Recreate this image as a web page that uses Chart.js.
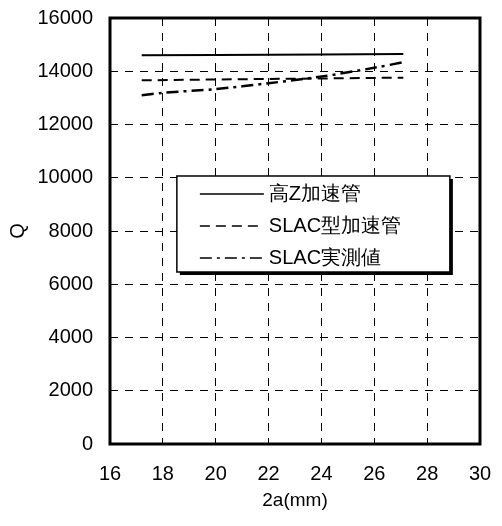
<!DOCTYPE html>
<html>
<head>
<meta charset="utf-8">
<script src="https://cdn.jsdelivr.net/npm/chart.js@4.4.1/dist/chart.umd.min.js"></script>
<style>
  html, body { margin: 0; padding: 0; background: #fff; }
  #wrap { width: 502px; height: 526px; }
</style>
</head>
<body>
<div id="wrap"><canvas id="c" width="502" height="526"></canvas></div>
<script>
// Bore diameter 2a (mm) and Q values for each structure
const apertureHighZ = [17.2, 20, 24, 27.1];
const qHighZ = [14600, 14610, 14630, 14650];

const apertureSlac = [17.2, 20, 24, 27.1];
const qSlac = [13660, 13690, 13730, 13760];

const apertureSlacMeasured = [17.2, 18, 20, 22, 24, 26, 27.1];
const qSlacMeasured = [13100, 13190, 13330, 13550, 13800, 14130, 14340];

const xTicks = [16, 18, 20, 22, 24, 26, 28, 30];
const yTicks = [0, 2000, 4000, 6000, 8000, 10000, 12000, 14000, 16000];

const seriesNames = ['高Z加速管', 'SLAC型加速管', 'SLAC実測値'];

const FONT = "'Liberation Sans', Arial, sans-serif";

function pts(xs, ys) { return xs.map((x, i) => ({ x: x, y: ys[i] })); }

// Thick frame around the plot area
const framePlugin = {
  id: 'frame',
  afterDraw(chart) {
    const { ctx, chartArea: a } = chart;
    ctx.save();
    ctx.strokeStyle = '#000';
    ctx.lineWidth = 3;
    ctx.setLineDash([]);
    ctx.strokeRect(a.left, a.top, a.right - a.left, a.bottom - a.top);
    ctx.restore();
  }
};

// Boxed legend inside the plot, with a drop shadow edge
const boxLegendPlugin = {
  id: 'boxLegend',
  afterDraw(chart) {
    const { ctx } = chart;
    const xs = chart.scales.x, ys = chart.scales.y;
    const left = xs.getPixelForValue(18.53);
    const right = xs.getPixelForValue(28.86);
    const top = ys.getPixelForValue(10066);
    const bottom = ys.getPixelForValue(6460);
    ctx.save();
    ctx.fillStyle = '#000';
    ctx.fillRect(left + 3, top + 3, right - left, bottom - top);
    ctx.fillStyle = '#fff';
    ctx.fillRect(left, top, right - left, bottom - top);
    ctx.strokeStyle = '#000';
    ctx.lineWidth = 1.5;
    ctx.setLineDash([]);
    ctx.strokeRect(left, top, right - left, bottom - top);
    const rowH = (bottom - top) / 3;
    chart.data.datasets.forEach((ds, i) => {
      const y = top + rowH * (i + 0.5) + 2;
      ctx.beginPath();
      ctx.strokeStyle = '#000';
      ctx.lineWidth = 1.6;
      ctx.setLineDash(ds.borderDash || []);
      ctx.moveTo(left + 23, y);
      ctx.lineTo(left + 87, y);
      ctx.stroke();
      ctx.setLineDash([]);
      ctx.fillStyle = '#000';
      ctx.font = '20px ' + FONT;
      ctx.textBaseline = 'middle';
      ctx.textAlign = 'left';
      ctx.fillText(ds.label, left + 92, y);
    });
    ctx.restore();
  }
};

new Chart(document.getElementById('c'), {
  type: 'line',
  data: {
    datasets: [
      { label: seriesNames[0], data: pts(apertureHighZ, qHighZ), borderColor: '#000', borderWidth: 2, pointRadius: 0, tension: 0 },
      { label: seriesNames[1], data: pts(apertureSlac, qSlac), borderColor: '#000', borderWidth: 2, borderDash: [10, 6], pointRadius: 0, tension: 0 },
      { label: seriesNames[2], data: pts(apertureSlacMeasured, qSlacMeasured), borderColor: '#000', borderWidth: 2.5, borderDash: [12, 5, 3, 5], pointRadius: 0, tension: 0.3 }
    ]
  },
  options: {
    responsive: false,
    animation: false,
    layout: { padding: { left: 6, top: 18, right: 22, bottom: 14 } },
    plugins: { legend: { display: false }, tooltip: { enabled: false } },
    scales: {
      x: {
        type: 'linear',
        min: 16, max: 30,
        afterBuildTicks(s) { s.ticks = xTicks.map(v => ({ value: v })); },
        afterFit(s) { s.height = 68; s.paddingLeft = 0; s.paddingRight = 0; },
        grid: { color: '#000', lineWidth: 1, drawTicks: false },
        border: { display: false, dash: [8, 7] },
        ticks: { color: '#000', font: { family: FONT, size: 20 }, padding: 18, maxRotation: 0, callback: v => String(v) },
        title: { display: true, text: '2a(mm)', color: '#000', font: { family: FONT, size: 19 }, padding: { top: 2, bottom: 0 } }
      },
      y: {
        min: 0, max: 16000,
        afterBuildTicks(s) { s.ticks = yTicks.map(v => ({ value: v })); },
        afterFit(s) { s.width = 104; s.paddingTop = 0; s.paddingBottom = 0; },
        grid: { color: '#000', lineWidth: 1, drawTicks: false },
        border: { display: false, dash: [8, 7] },
        ticks: { color: '#000', font: { family: FONT, size: 20 }, padding: 17, callback: v => String(v) },
        title: { display: true, text: 'Q', color: '#000', font: { family: FONT, size: 20 }, padding: 0 }
      }
    }
  },
  plugins: [framePlugin, boxLegendPlugin]
});
</script>
</body>
</html>
